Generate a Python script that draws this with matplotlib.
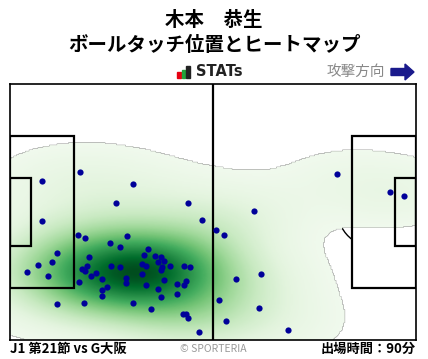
import numpy as np
import matplotlib
matplotlib.use('Agg')
import matplotlib.pyplot as plt
from matplotlib.patches import Rectangle, Arc, Circle, FancyArrow
from matplotlib.colors import LinearSegmentedColormap

plt.rcParams['font.family'] = ['Noto Sans CJK JP', 'DejaVu Sans']

# ボールタッチ位置 (ピッチ座標, 105 x 68)
touch_x = [8.4, 18.2, 31.9, 27.5, 46.1, 8.4, 49.7, 17.7, 19.5, 30.3,
           25.9, 28.5, 35.8, 12.2, 34.7, 37.6, 39.1, 20.5, 10.9, 38.4,
           39.9, 7.3, 34.2, 35.2, 19.8, 26.2, 28.5, 39.4, 41.5, 45.1,
           46.6, 18.7, 19.5, 39.1, 4.5, 22.3, 34.2, 9.9, 21.0, 23.9,
           30.1, 30.1, 39.9, 17.9, 45.6, 43.3, 45.1, 35.2, 25.2, 23.9,
           38.4, 43.3, 23.9, 39.1, 12.2, 19.2, 31.9, 36.5, 44.8, 45.6,
           46.1, 49.0, 84.6, 98.3, 102.0, 63.2, 53.4, 55.4, 65.0, 58.5,
           54.1, 64.5, 55.9, 72.0]
touch_y = [42.2, 44.5, 41.4, 36.3, 36.3, 31.5, 31.8, 27.8, 27.0, 27.5,
           25.7, 24.6, 24.1, 23.0, 22.5, 22.2, 22.0, 22.0, 20.6, 20.6,
           20.9, 19.8, 20.1, 19.6, 19.6, 19.6, 19.3, 19.3, 19.6, 19.6,
           19.3, 18.8, 18.2, 18.5, 18.0, 17.7, 17.5, 16.9, 16.9, 16.1,
           16.4, 15.1, 15.9, 15.3, 15.6, 14.8, 14.5, 14.5, 14.0, 13.2,
           13.5, 12.1, 11.6, 11.3, 9.5, 9.7, 9.7, 8.2, 6.8, 6.8,
           5.8, 2.0, 44.0, 39.2, 38.2, 34.2, 29.1, 27.8, 17.5, 16.1,
           10.5, 8.4, 5.0, 2.6]

player = '木本　恭生'
subtitle = 'ボールタッチ位置とヒートマップ'
match_label = 'J1 第21節 vs G大阪'
minutes_label = '出場時間：90分'

fig = plt.figure(figsize=(4.28, 3.59), dpi=100)
ax = fig.add_axes([10 / 428, 19 / 359, 406 / 428, 256 / 359])
ax.set_xlim(0, 105)
ax.set_ylim(0, 68)
ax.set_xticks([])
ax.set_yticks([])
for s in ax.spines.values():
    s.set_color('black')
    s.set_linewidth(1.2)
    s.set_zorder(5)

# ヒートマップ (ガウスカーネル密度推定)
pts = np.vstack([touch_x, touch_y])
n = pts.shape[1]
cov = np.cov(pts) * n ** (-1 / 3) * 1.7
inv = np.linalg.inv(cov)
gx, gy = np.meshgrid(np.linspace(0, 105, 320), np.linspace(0, 68, 210))
grid = np.stack([gx.ravel(), gy.ravel()])
diff = grid[:, None, :] - pts[:, :, None]
q = np.einsum('anm,ab,bnm->nm', diff, inv, diff)
dens = np.exp(-q / 2).sum(axis=0).reshape(gx.shape)
thr = dens.max() * 0.025
dens = np.ma.masked_less(dens, thr)
cmap = LinearSegmentedColormap.from_list('g', plt.cm.Greens(np.linspace(0.05, 0.97, 256)))
ax.imshow(dens, extent=[0, 105, 0, 68], origin='lower', cmap=cmap,
          vmin=thr, vmax=dens.max(), aspect='auto', zorder=1, interpolation='bilinear')

# ピッチ
lw = 1.6
ax.plot([52.5, 52.5], [0, 68], color='black', lw=lw, zorder=3)
ax.add_patch(Circle((52.5, 34), 9.15, fill=False, color='black', lw=1, zorder=0.5))
for x0, sign in [(0, 1), (105, -1)]:
    ax.add_patch(Rectangle((x0 if sign > 0 else x0 - 16.5, 13.85), 16.5, 40.3,
                           fill=False, color='black', lw=lw, zorder=3))
    ax.add_patch(Rectangle((x0 if sign > 0 else x0 - 5.5, 24.85), 5.5, 18.3,
                           fill=False, color='black', lw=lw, zorder=3))
ax.add_patch(Arc((11, 34), 18.3, 18.3, theta1=-53, theta2=53, color='black', lw=1, zorder=0.5))
ax.add_patch(Arc((94, 34), 18.3, 18.3, theta1=127, theta2=233, color='black', lw=1, zorder=0.5))

ax.scatter(touch_x, touch_y, s=20, color='#000099', zorder=4, linewidths=0)

# テキスト
fig.text(0.5, 1 - 20 / 359, player, ha='center', va='center', fontsize=14, fontweight='bold')
fig.text(0.5, 1 - 45 / 359, subtitle, ha='center', va='center', fontsize=14, fontweight='bold')

# STATs ロゴ
for i, (c, h) in enumerate([('#e60012', 6), ('#22a33a', 8), ('#222222', 12)]):
    fig.add_artist(Rectangle(((177 + i * 4.5) / 428, (359 - 78) / 359), 3.5 / 428, h / 359,
                             transform=fig.transFigure, color=c))
fig.text(196 / 428, 1 - 72 / 359, 'STATs', ha='left', va='center', fontsize=10.5,
         fontweight='bold', color='#222222', family='DejaVu Sans')

fig.text(385 / 428, 1 - 72 / 359, '攻撃方向', ha='right', va='center', fontsize=10.5, color='#888888')
fig.add_artist(FancyArrow(391 / 428, 1 - 72 / 359, 14 / 428, 0, width=7 / 359,
                          head_width=16 / 359, head_length=9 / 428,
                          length_includes_head=False, transform=fig.transFigure,
                          color='#1a1a8c'))

fig.text(10 / 428, 10 / 359, match_label, ha='left', va='center', fontsize=9.5, fontweight='bold')
fig.text(213 / 428, 10 / 359, '© SPORTERIA', ha='center', va='center', fontsize=7.5, color='#999999')
fig.text(416 / 428, 10 / 359, minutes_label, ha='right', va='center', fontsize=9.5, fontweight='bold')

fig.savefig('out.png', dpi=100)
